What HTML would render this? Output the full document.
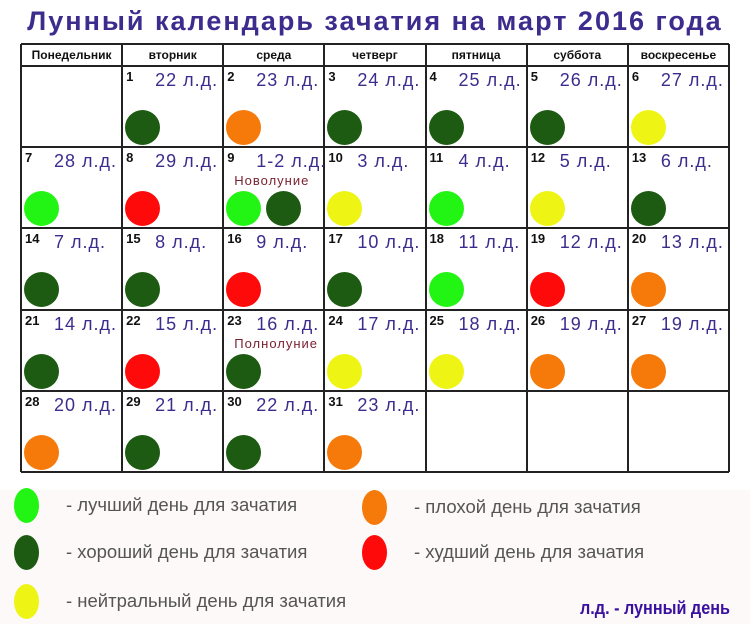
<!DOCTYPE html>
<html><head><meta charset="utf-8">
<style>
body{margin:0;width:750px;height:624px;background:#fff;position:relative;overflow:hidden;font-family:"Liberation Sans","DejaVu Sans",sans-serif}
.abs{position:absolute}
#title{left:0;width:750px;top:6px;text-align:center;font-size:27px;font-weight:bold;color:#3d2c8d;letter-spacing:2px;white-space:nowrap}
.hd{font-size:12px;font-weight:bold;text-align:center;color:#111}
.num{font-size:13px;font-weight:bold;color:#111}
.ld{font-size:18px;color:#3d2c8d;letter-spacing:1px;white-space:nowrap}
.note{font-size:13px;color:#7a2230;letter-spacing:1px;white-space:nowrap}
.dot{border-radius:50%;width:35px;height:35px}
.leg{font-size:18.5px;color:#555;white-space:nowrap}
.le{border-radius:50%;width:25px;height:35px}
</style></head><body>
<div class="abs" style="left:0;top:490px;width:750px;height:134px;background:#fcf9f8"></div>
<div id="title" class="abs">Лунный календарь зачатия на март 2016 года</div>
<div id="cal"></div>
<div id="legend"></div>
<div class="abs" style="left:580px;top:598px;font-size:18px;color:#3a10a0;font-weight:bold;transform:scaleX(0.9);transform-origin:left;white-space:nowrap">л.д. - лунный день</div>
<script>
const weekdays=["Понедельник","вторник","среда","четверг","пятница","суббота","воскресенье"];
const days=[1,2,3,4,5,6,7,8,9,10,11,12,13,14,15,16,17,18,19,20,21,22,23,24,25,26,27,28,29,30,31];
const lunar=["22","23","24","25","26","27","28","29","1-2","3","4","5","6","7","8","9","10","11","12","13","14","15","16","17","18","19","19","20","21","22","23"];
const ratings=["g","o","g","g","g","y","l","r","lg","y","l","y","g","g","g","r","g","l","r","o","g","r","g","y","y","o","o","o","g","g","o"];
const notes={9:"Новолуние",23:"Полнолуние"};
const startOffset=1;
const colors={l:"#22f514",g:"#1d5b12",y:"#eef514",o:"#f57a0a",r:"#ff0a0a"};
const X0=21,CW=101.14,HT=44,HB=66,RH=81.2;
const body=document.body;
function el(cls,css,txt){const d=document.createElement('div');d.className='abs '+cls;Object.assign(d.style,css);if(txt!==undefined)d.textContent=txt;body.appendChild(d);return d;}
for(let c=0;c<=7;c++){const d=el('',{left:(X0+c*CW-1)+'px',top:HT+'px',width:'2px',height:(HB-HT+5*RH)+'px',background:'#222'});}
const ys=[HT,HB];for(let r=1;r<=5;r++)ys.push(HB+r*RH);
ys.forEach(y=>{const d=el('',{left:X0+'px',top:(y-1)+'px',width:(7*CW)+'px',height:'2px',background:'#222'});});
weekdays.forEach((w,i)=>{const d=el('hd',{left:(X0+i*CW)+'px',top:'48px',width:CW+'px'},w);});
days.forEach((day,i)=>{
 const k=i+startOffset,col=k%7,row=Math.floor(k/7);
 const cx=X0+col*CW,cy=HB+row*RH;
 let d=el('num',{left:(cx+4)+'px',top:(cy+3)+'px'},day);
 
 d=el('ld',{left:(cx+33)+'px',top:(cy+4)+'px'},lunar[i]+' л.д.');
 
 if(notes[day]){d=el('note',{left:(cx+11)+'px',top:(cy+26)+'px'},notes[day]);}
 ratings[i].split('').forEach((r,j)=>{
  d=el('dot',{left:(cx+3+j*40)+'px',top:(cy+44)+'px',background:colors[r]});
  
 });
});
const legendKeys=["l","g","y","o","r"];
const legendLabels=["- лучший день для зачатия","- хороший день для зачатия","- нейтральный день для зачатия","- плохой день для зачатия","- худший день для зачатия"];
const legendPos=[[14,488],[14,535],[14,584],[362,490],[362,535]];
legendKeys.forEach((k,i)=>{
 const [lx,ly]=legendPos[i];
 let d=el('le',{left:lx+'px',top:ly+'px',background:colors[k]});
 
 d=el('leg',{left:(lx+52)+'px',top:(ly+6)+'px'},legendLabels[i]);
 
});
</script>
</body></html>
